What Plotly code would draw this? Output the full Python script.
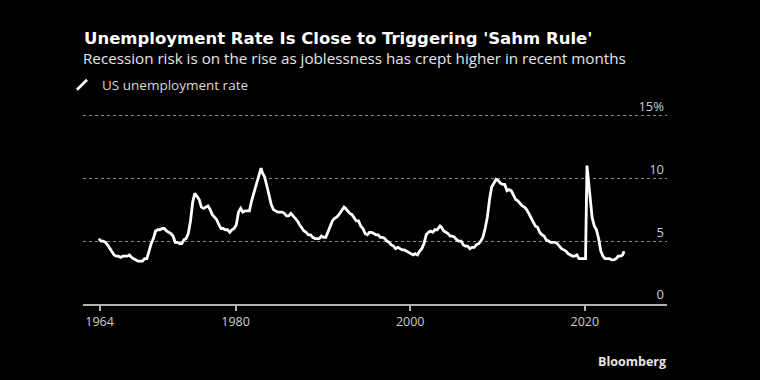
import plotly.graph_objects as go

# Three-month average US unemployment rate (%)
dates = [
    "1964-05", "1964-08", "1964-11",
    "1965-02", "1965-05", "1965-08", "1965-11",
    "1966-02", "1966-05", "1966-08", "1966-11",
    "1967-02", "1967-05", "1967-08", "1967-11",
    "1968-02", "1968-05", "1968-08", "1968-11",
    "1969-02", "1969-05", "1969-08", "1969-11",
    "1970-02", "1970-05", "1970-08", "1970-11",
    "1971-02", "1971-05", "1971-08", "1971-11",
    "1972-02", "1972-05", "1972-08", "1972-11",
    "1973-02", "1973-05", "1973-08", "1973-11",
    "1974-02", "1974-05", "1974-08", "1974-11",
    "1975-02", "1975-05", "1975-08", "1975-11",
    "1976-02", "1976-05", "1976-08", "1976-11",
    "1977-02", "1977-05", "1977-08", "1977-11",
    "1978-02", "1978-05", "1978-08", "1978-11",
    "1979-02", "1979-05", "1979-08", "1979-11",
    "1980-02", "1980-05", "1980-08", "1980-11",
    "1981-02", "1981-05", "1981-08", "1981-11",
    "1982-02", "1982-05", "1982-08", "1982-12",
    "1983-02", "1983-05", "1983-08", "1983-11",
    "1984-02", "1984-05", "1984-08", "1984-11",
    "1985-02", "1985-05", "1985-08", "1985-11",
    "1986-02", "1986-05", "1986-08", "1986-11",
    "1987-02", "1987-05", "1987-08", "1987-11",
    "1988-02", "1988-05", "1988-08", "1988-11",
    "1989-02", "1989-05", "1989-08", "1989-11",
    "1990-02", "1990-05", "1990-08", "1990-11",
    "1991-02", "1991-05", "1991-08", "1991-11",
    "1992-02", "1992-06", "1992-08", "1992-11",
    "1993-02", "1993-05", "1993-08", "1993-11",
    "1994-02", "1994-05", "1994-08", "1994-11",
    "1995-02", "1995-05", "1995-08", "1995-11",
    "1996-02", "1996-05", "1996-08", "1996-11",
    "1997-02", "1997-05", "1997-08", "1997-11",
    "1998-02", "1998-05", "1998-08", "1998-11",
    "1999-02", "1999-05", "1999-08", "1999-11",
    "2000-02", "2000-05", "2000-08", "2000-11",
    "2001-02", "2001-05", "2001-08", "2001-11",
    "2002-02", "2002-05", "2002-08", "2002-11",
    "2003-02", "2003-06", "2003-08", "2003-11",
    "2004-02", "2004-05", "2004-08", "2004-11",
    "2005-02", "2005-05", "2005-08", "2005-11",
    "2006-02", "2006-05", "2006-08", "2006-11",
    "2007-02", "2007-05", "2007-08", "2007-11",
    "2008-02", "2008-05", "2008-08", "2008-11",
    "2009-02", "2009-05", "2009-08", "2009-11",
    "2010-02", "2010-05", "2010-08", "2010-11",
    "2011-02", "2011-05", "2011-08", "2011-11",
    "2012-02", "2012-05", "2012-08", "2012-11",
    "2013-02", "2013-05", "2013-08", "2013-11",
    "2014-02", "2014-05", "2014-08", "2014-11",
    "2015-02", "2015-05", "2015-08", "2015-11",
    "2016-02", "2016-05", "2016-08", "2016-11",
    "2017-02", "2017-05", "2017-08", "2017-11",
    "2018-02", "2018-05", "2018-08", "2018-11",
    "2019-02", "2019-05", "2019-08", "2019-11",
    "2020-02", "2020-04", "2020-06", "2020-08", "2020-11",
    "2021-02", "2021-05", "2021-08", "2021-11",
    "2022-02", "2022-05", "2022-08", "2022-11",
    "2023-02", "2023-05", "2023-08", "2023-11",
    "2024-02", "2024-05", "2024-07",
]

rates = [
    5.2, 5.0, 5.0,
    4.9, 4.7, 4.4, 4.1,
    3.9, 3.8, 3.8, 3.7,
    3.8, 3.8, 3.8, 3.9,
    3.7, 3.6, 3.5, 3.4,
    3.4, 3.4, 3.6, 3.6,
    4.2, 4.8, 5.2, 5.8,
    5.9, 5.9, 6.0, 6.0,
    5.8, 5.7, 5.6, 5.4,
    4.9, 4.9, 4.8, 4.8,
    5.1, 5.2, 5.6, 6.6,
    8.1, 8.8, 8.5, 8.3,
    7.7, 7.6, 7.7, 7.8,
    7.5, 7.1, 6.9, 6.7,
    6.3, 6.0, 6.0, 5.9,
    5.9, 5.7, 5.9, 6.0,
    6.3, 7.3, 7.6, 7.3,
    7.4, 7.4, 7.4, 8.2,
    8.8, 9.4, 9.9, 10.8,
    10.4, 10.1, 9.4, 8.5,
    7.9, 7.5, 7.4, 7.3,
    7.3, 7.3, 7.2, 7.0,
    7.0, 7.2, 7.0, 6.8,
    6.6, 6.3, 6.0, 5.8,
    5.7, 5.5, 5.5, 5.3,
    5.2, 5.2, 5.2, 5.4,
    5.3, 5.3, 5.7, 6.1,
    6.6, 6.8, 6.9, 7.1,
    7.4, 7.7, 7.6, 7.4,
    7.2, 7.1, 6.8, 6.6,
    6.6, 6.2, 6.0, 5.6,
    5.5, 5.7, 5.7, 5.6,
    5.5, 5.5, 5.3, 5.3,
    5.2, 5.0, 4.9, 4.7,
    4.6, 4.4, 4.5, 4.4,
    4.3, 4.3, 4.2, 4.1,
    4.0, 3.9, 4.0, 3.9,
    4.2, 4.4, 4.8, 5.5,
    5.7, 5.8, 5.7, 5.9,
    5.9, 6.2, 6.1, 5.8,
    5.7, 5.6, 5.4, 5.4,
    5.3, 5.1, 5.0, 5.0,
    4.7, 4.6, 4.6, 4.4,
    4.5, 4.5, 4.7, 4.8,
    5.0, 5.3, 6.0, 6.9,
    8.3, 9.3, 9.6, 9.9,
    9.8, 9.6, 9.5, 9.5,
    9.0, 9.1, 9.0, 8.6,
    8.3, 8.2, 8.0, 7.8,
    7.7, 7.5, 7.2, 6.9,
    6.6, 6.2, 6.1, 5.7,
    5.5, 5.4, 5.1, 5.0,
    4.9, 4.9, 4.9, 4.8,
    4.6, 4.4, 4.3, 4.2,
    4.0, 3.9, 3.8, 3.8,
    3.9, 3.6, 3.6, 3.6,
    3.6, 11.0, 9.8, 8.3, 6.9,
    6.2, 5.9, 5.2, 4.2,
    3.8, 3.6, 3.6, 3.6,
    3.5, 3.5, 3.6, 3.8,
    3.8, 3.9, 4.2,
]

series_name = "US unemployment rate"
x_tick_vals = ["1964-06-01", "1980-01-01", "2000-01-01", "2020-01-01"]
x_tick_text = ["1964", "1980", "2000", "2020"]
y_tick_vals = [0, 5, 10, 15]
y_tick_text = ["0", "5", "10", "15%"]

FONT = "Open Sans"
TITLE_FONT = "DejaVu Sans"

fig = go.Figure()
fig.add_trace(go.Scatter(
    x=dates, y=rates, mode="lines",
    line=dict(color="white", width=2.8),
    showlegend=False, hoverinfo="skip",
))
# legend entry with a slash-like symbol
fig.add_trace(go.Scatter(
    x=[None], y=[None], mode="markers", name=series_name,
    marker=dict(symbol="line-ne", size=10, color="white",
                line=dict(color="white", width=2.6)),
))

fig.update_layout(
    width=760, height=380,
    paper_bgcolor="black", plot_bgcolor="black",
    margin=dict(l=83, r=93, t=114, b=76, autoexpand=False),
    font=dict(family=FONT, color="#d9d9d9", size=13),
    showlegend=True,
    legend=dict(
        x=62 / 760, xref="container", xanchor="left",
        y=1 - 85 / 380, yref="container", yanchor="middle",
        font=dict(size=13.5, color="#d9d9d9", family=FONT),
        bgcolor="rgba(0,0,0,0)", itemwidth=30,
        borderwidth=0,
    ),
    title=dict(
        text="<b>Unemployment Rate Is Close to Triggering 'Sahm Rule'</b>",
        x=84 / 760, xref="container", xanchor="left",
        y=1 - 38 / 380, yref="container", yanchor="middle",
        font=dict(size=16.5, color="white", family=TITLE_FONT),
    ),
    annotations=[
        dict(
            text="Recession risk is on the rise as joblessness has crept higher in recent months",
            xref="paper", yref="paper", x=0, xshift=-2, y=1.0, yshift=114 - 58,
            xanchor="left", yanchor="middle", showarrow=False,
            font=dict(size=15.2, color="#e6e6e6", family=FONT),
        ),
        dict(
            text="<b>Bloomberg</b>",
            xref="paper", yref="paper", x=1, xshift=1, y=0, yshift=304 - 361,
            xanchor="right", yanchor="middle", showarrow=False,
            font=dict(size=12.5, color="#e6e6e6", family=FONT),
        ),
    ],
)

fig.update_xaxes(
    type="date", range=["1962-07-10", "2029-06-01"],
    tickvals=x_tick_vals, ticktext=x_tick_text,
    showgrid=False, zeroline=False,
    showline=True, linecolor="#b3b3b3", linewidth=1.5,
    ticks="outside", ticklen=5, tickcolor="#b3b3b3", tickwidth=1.5,
    tickfont=dict(size=12.5, color="#cccccc", family=FONT),
    fixedrange=True,
)
fig.update_yaxes(
    range=[0, 15.1], side="right",
    tickvals=y_tick_vals, ticktext=y_tick_text,
    ticklabelposition="inside top", ticklabeloverflow="allow",
    showgrid=True, gridcolor="#8c8c8c", griddash="dot", gridwidth=1,
    zeroline=False, showline=False, ticks="",
    tickfont=dict(size=13, color="#cccccc", family=FONT),
    fixedrange=True,
)

fig.write_html(
    "out.html",
    config={"displayModeBar": False},
    post_script="document.body.style.margin='0';document.body.style.background='black';",
)
